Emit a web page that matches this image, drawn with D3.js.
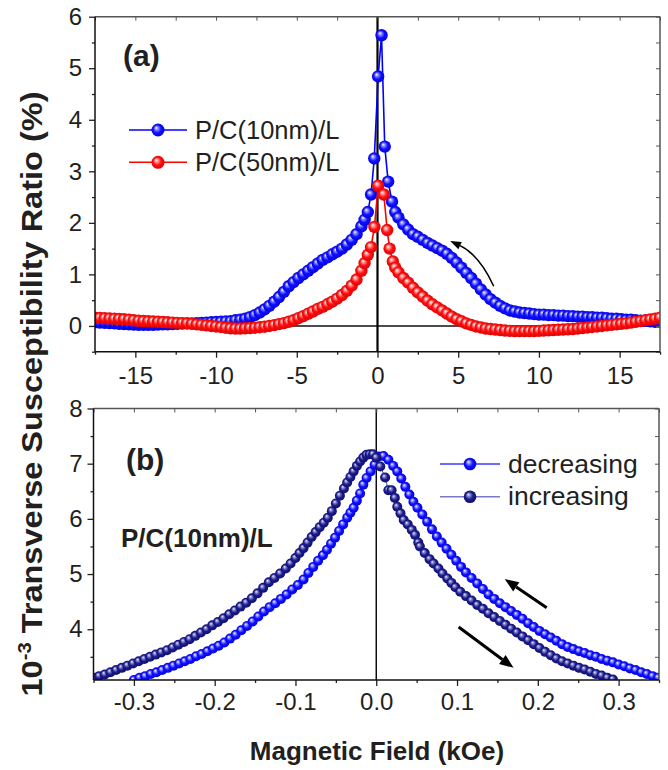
<!DOCTYPE html>
<html><head><meta charset="utf-8">
<script src="https://cdn.jsdelivr.net/npm/d3@7"></script>
<style>
body{margin:0;background:#fff}
svg{display:block}
text{font-family:Arial,"Liberation Sans",Helvetica,sans-serif;fill:#231f20}
</style>
</head><body>
<svg id="c" width="668" height="770"></svg>
<script>
// ---------------- DATA ----------------
// Panel (a): field (kOe) and transverse susceptibility ratio (%)
const aField10 = [-17.5,-17.2,-16.9,-16.6,-16.3,-16.0,-15.7,-15.4,-15.1,-14.8,-14.5,-14.2,-13.9,-13.6,-13.3,-13.0,-12.7,-12.4,-12.1,-11.8,-11.5,-11.2,-10.9,-10.6,-10.3,-10.0,-9.7,-9.4,-9.1,-8.8,-8.5,-8.2,-7.9,-7.6,-7.3,-7.0,-6.7,-6.4,-6.1,-5.8,-5.5,-5.2,-4.9,-4.6,-4.3,-4.0,-3.7,-3.4,-3.1,-2.8,-2.5,-2.2,-1.9,-1.6,-1.3,-1.0,
  -0.8,-0.6,-0.4,-0.2,0.04,0.25,0.45,0.66,0.9,1.1,1.3,
  1.6,1.9,2.2,2.5,2.8,3.1,3.4,3.7,4.0,4.3,4.6,4.9,5.2,5.5,5.8,6.1,6.4,6.7,7.0,7.3,7.6,7.9,8.2,8.5,8.8,9.1,9.4,9.7,10.0,10.3,10.6,10.9,11.2,11.5,11.8,12.1,12.4,12.7,13.0,13.3,13.6,13.9,14.2,14.5,14.8,15.1,15.4,15.7,16.0,16.3,16.6,16.9,17.2,17.5];
const aRatio10 = [.07,.065,.06,.055,.05,.04,.035,.03,.025,.02,.02,.02,.02,.025,.03,.03,.035,.04,.045,.05,.05,.055,.06,.065,.07,.075,.08,.085,.09,.11,.12,.14,.17,.21,.26,.32,.39,.47,.56,.66,.77,.85,.93,1.0,1.07,1.14,1.21,1.28,1.33,1.39,1.44,1.5,1.58,1.67,1.78,1.93,
  2.06,2.21,2.55,3.25,4.84,5.64,3.48,2.80,2.41,2.21,2.10,
  1.97,1.87,1.78,1.73,1.67,1.61,1.56,1.51,1.46,1.40,1.32,1.23,1.13,1.03,.93,.82,.71,.61,.52,.45,.39,.34,.30,.28,.26,.25,.24,.23,.22,.22,.21,.21,.20,.20,.19,.19,.18,.18,.17,.17,.16,.16,.15,.14,.14,.13,.12,.12,.11,.10,.10,.09,.08,.08];
const aField50 = [-17.5,-17.2,-16.9,-16.6,-16.3,-16.0,-15.7,-15.4,-15.1,-14.8,-14.5,-14.2,-13.9,-13.6,-13.3,-13.0,-12.7,-12.4,-12.1,-11.8,-11.5,-11.2,-10.9,-10.6,-10.3,-10.0,-9.7,-9.4,-9.1,-8.8,-8.5,-8.2,-7.9,-7.6,-7.3,-7.0,-6.7,-6.4,-6.1,-5.8,-5.5,-5.2,-4.9,-4.6,-4.3,-4.0,-3.7,-3.4,-3.1,-2.8,-2.5,-2.2,-1.9,-1.6,-1.3,-1.0,
  -0.8,-0.6,-0.4,-0.19,0.04,0.39,0.6,0.75,0.95,1.1,1.3,
  1.6,1.9,2.2,2.5,2.8,3.1,3.4,3.7,4.0,4.3,4.6,4.9,5.2,5.5,5.8,6.1,6.4,6.7,7.0,7.3,7.6,7.9,8.2,8.5,8.8,9.1,9.4,9.7,10.0,10.3,10.6,10.9,11.2,11.5,11.8,12.1,12.4,12.7,13.0,13.3,13.6,13.9,14.2,14.5,14.8,15.1,15.4,15.7,16.0,16.3,16.6,16.9,17.2,17.5];
const aRatio50 = [.16,.155,.15,.145,.14,.135,.13,.12,.11,.10,.095,.09,.085,.08,.075,.07,.065,.06,.055,.05,.04,.03,.02,.01,0,-.01,-.02,-.035,-.045,-.05,-.05,-.045,-.04,-.035,-.025,-.015,0,.015,.035,.055,.08,.11,.15,.19,.235,.28,.33,.37,.42,.47,.53,.60,.68,.78,.90,1.07,
  1.22,1.38,1.53,1.92,2.72,2.55,1.86,1.5,1.25,1.13,1.04,
  .93,.84,.74,.65,.57,.49,.42,.36,.30,.24,.18,.13,.09,.05,.02,-.01,-.03,-.05,-.06,-.07,-.08,-.09,-.095,-.1,-.1,-.1,-.1,-.1,-.095,-.09,-.085,-.08,-.075,-.07,-.065,-.06,-.05,-.04,-.03,-.02,-.01,0,.01,.02,.03,.04,.05,.065,.08,.095,.11,.125,.14,.16];

// Panel (b): field (kOe) and 10^-3 transverse susceptibility
const bDecreasing = [[-0.300,3.08],[-0.293,3.12],[-0.286,3.15],[-0.279,3.19],[-0.272,3.22],[-0.265,3.26],[-0.258,3.30],[-0.251,3.34],[-0.244,3.38],[-0.237,3.42],[-0.230,3.46],[-0.223,3.51],[-0.216,3.55],[-0.209,3.60],[-0.202,3.65],[-0.195,3.70],[-0.188,3.76],[-0.181,3.83],[-0.174,3.90],[-0.167,3.98],[-0.160,4.06],[-0.153,4.14],[-0.146,4.23],[-0.139,4.32],[-0.132,4.40],[-0.125,4.47],[-0.118,4.55],[-0.111,4.63],[-0.104,4.72],[-0.097,4.80],[-0.090,4.90],[-0.084,5.02],[-0.078,5.13],[-0.072,5.24],[-0.066,5.34],[-0.061,5.44],[-0.056,5.55],[-0.051,5.66],[-0.046,5.78],[-0.041,5.90],[-0.036,6.02],[-0.032,6.11],[-0.028,6.20],[-0.024,6.33],[-0.020,6.46],[-0.016,6.62],[-0.012,6.74],[-0.007,6.86],[-0.002,6.98],[0.003,7.13],[0.009,7.14],[0.015,7.07],[0.021,6.96],[0.026,6.86],[0.031,6.73],[0.036,6.58],[0.041,6.44],[0.046,6.31],[0.051,6.20],[0.057,6.08],[0.063,5.95],[0.069,5.81],[0.075,5.68],[0.081,5.57],[0.087,5.46],[0.093,5.35],[0.099,5.24],[0.105,5.13],[0.111,5.03],[0.118,4.93],[0.125,4.83],[0.132,4.73],[0.139,4.63],[0.146,4.55],[0.153,4.47],[0.160,4.40],[0.167,4.33],[0.174,4.26],[0.181,4.19],[0.188,4.11],[0.195,4.04],[0.202,3.97],[0.209,3.91],[0.216,3.85],[0.223,3.79],[0.230,3.73],[0.237,3.68],[0.244,3.64],[0.251,3.60],[0.258,3.57],[0.265,3.53],[0.272,3.50],[0.279,3.46],[0.286,3.43],[0.293,3.40],[0.300,3.36],[0.307,3.33],[0.314,3.29],[0.321,3.26],[0.328,3.22],[0.335,3.19],[0.342,3.15],[0.349,3.12]];
const bIncreasing = [[-0.350,3.12],[-0.343,3.15],[-0.336,3.18],[-0.329,3.22],[-0.322,3.26],[-0.315,3.30],[-0.308,3.34],[-0.301,3.38],[-0.294,3.42],[-0.287,3.46],[-0.280,3.50],[-0.273,3.54],[-0.266,3.58],[-0.259,3.62],[-0.252,3.67],[-0.245,3.72],[-0.238,3.77],[-0.231,3.82],[-0.224,3.88],[-0.217,3.94],[-0.210,4.00],[-0.203,4.07],[-0.196,4.13],[-0.189,4.20],[-0.182,4.27],[-0.175,4.34],[-0.168,4.41],[-0.161,4.48],[-0.154,4.56],[-0.147,4.65],[-0.140,4.75],[-0.133,4.85],[-0.126,4.93],[-0.119,5.01],[-0.112,5.10],[-0.106,5.19],[-0.100,5.29],[-0.095,5.38],[-0.090,5.47],[-0.085,5.57],[-0.080,5.67],[-0.075,5.76],[-0.070,5.85],[-0.065,5.93],[-0.060,6.02],[-0.055,6.14],[-0.050,6.28],[-0.045,6.42],[-0.040,6.55],[-0.036,6.66],[-0.032,6.76],[-0.028,6.86],[-0.024,6.96],[-0.020,7.04],[-0.016,7.11],[-0.012,7.16],[-0.008,7.17],[-0.004,7.17],[0.000,7.11],[0.005,6.95],[0.011,6.75],[0.015,6.52],[0.019,6.52],[0.023,6.38],[0.026,6.22],[0.030,6.10],[0.034,5.98],[0.039,5.90],[0.044,5.80],[0.048,5.71],[0.052,5.57],[0.054,5.50],[0.060,5.38],[0.066,5.27],[0.071,5.19],[0.077,5.10],[0.082,5.01],[0.088,4.92],[0.093,4.84],[0.098,4.76],[0.104,4.68],[0.111,4.60],[0.118,4.52],[0.125,4.44],[0.132,4.37],[0.139,4.29],[0.146,4.22],[0.153,4.15],[0.160,4.08],[0.167,4.01],[0.174,3.94],[0.181,3.87],[0.188,3.80],[0.195,3.73],[0.202,3.66],[0.209,3.59],[0.216,3.53],[0.223,3.47],[0.230,3.42],[0.237,3.38],[0.244,3.34],[0.251,3.30],[0.258,3.27],[0.265,3.23],[0.272,3.19],[0.279,3.16],[0.286,3.12],[0.293,3.09]];

// Ticks
const aXTicks = [-15,-10,-5,0,5,10,15];
const aXMinor = [-17.5,-12.5,-7.5,-2.5,2.5,7.5,12.5,17.5];
const aYTicks = [0,1,2,3,4,5,6];
const aYMinor = [-0.5,0.5,1.5,2.5,3.5,4.5,5.5];
const bXTicks = [-0.3,-0.2,-0.1,0,0.1,0.2,0.3];
const bXMinor = [-0.35,-0.25,-0.15,-0.05,0.05,0.15,0.25,0.35];
const bYTicks = [4,5,6,7,8];
const bYMinor = [3.5,4.5,5.5,6.5,7.5];

// Legend / text labels
const aSeriesNames = ["P/C(10nm)/L","P/C(50nm)/L"];
const bSeriesNames = ["decreasing","increasing"];
const yTitle = " Transverse Susceptibility Ratio (%)";
const xTitle = "Magnetic Field (kOe)";

// ---------------- DRAWING ----------------
const svg = d3.select("#c");
const defs = svg.append("defs");
function sphere(id, hi, mid, base, edge){
  const g = defs.append("radialGradient").attr("id",id)
    .attr("cx","50%").attr("cy","50%").attr("r","55%").attr("fx","36%").attr("fy","32%");
  g.append("stop").attr("offset","0%").attr("stop-color",hi);
  g.append("stop").attr("offset","22%").attr("stop-color",mid);
  g.append("stop").attr("offset","55%").attr("stop-color",base);
  g.append("stop").attr("offset","100%").attr("stop-color",edge);
}
sphere("gBlue","#ffffff","#8f8fff","#1010ff","#0000d8");
sphere("gRed","#ffffff","#ff9a9a","#ff1010","#d80000");
sphere("gNavy","#f0f0ff","#8a8ad0","#1c1c8e","#0c0c66");

const A = {x:d3.scaleLinear([-17.5,17.5],[95,660]), y:d3.scaleLinear([-0.5,6],[351.7,16.7])};
const B = {x:d3.scaleLinear([-0.35,0.35],[93.5,659]), y:d3.scaleLinear([3.08,8],[680,408.5])};

function clip(id,P){
  const [x0,x1]=P.x.range(), [y0,y1]=P.y.range();
  defs.append("clipPath").attr("id",id).append("rect")
    .attr("x",x0).attr("y",y1).attr("width",x1-x0).attr("height",y0-y1);
}
clip("clipA",A); clip("clipB",B);

function frame(P, xMaj, xMin, yMaj, yMin, xFmt, yFmt, xPad, yPad){
  const [x0,x1]=P.x.range(), [y0,y1]=P.y.range();
  const g = svg.append("g");
  g.append("g").attr("transform",`translate(${x0},0)`)
    .call(d3.axisLeft(P.y).tickValues(yMaj).tickSize(6).tickPadding(yPad).tickFormat(yFmt).tickSizeOuter(0));
  g.append("g").attr("transform",`translate(${x0},0)`)
    .call(d3.axisLeft(P.y).tickValues(yMin).tickSize(3).tickFormat("").tickSizeOuter(0));
  g.append("g").attr("transform",`translate(0,${y0})`)
    .call(d3.axisBottom(P.x).tickValues(xMaj).tickSize(6).tickPadding(xPad).tickFormat(xFmt).tickSizeOuter(0));
  g.append("g").attr("transform",`translate(0,${y0})`)
    .call(d3.axisBottom(P.x).tickValues(xMin).tickSize(3).tickFormat("").tickSizeOuter(0));
  const t = g.append("g").attr("transform",`translate(0,${y1})`)
    .call(d3.axisBottom(P.x).tickValues(xMaj.concat(xMin)).tickSize(4).tickFormat("").tickSizeOuter(0));
  const r = g.append("g").attr("transform",`translate(${x1},0)`)
    .call(d3.axisLeft(P.y).tickValues(yMaj.concat(yMin)).tickSize(4).tickFormat("").tickSizeOuter(0));
  g.selectAll(".domain").remove();
  g.selectAll(".tick line").attr("stroke","#222").attr("stroke-width",1.3);
  t.selectAll(".tick line").attr("stroke","#555").attr("stroke-width",1);
  r.selectAll(".tick line").attr("stroke","#555").attr("stroke-width",1);
  g.selectAll(".tick text").attr("font-size",24).attr("fill","#231f20")
    .attr("font-family","Arial, 'Liberation Sans', Helvetica, sans-serif");
  g.append("line").attr("x1",x0).attr("x2",x1).attr("y1",y1).attr("y2",y1).attr("stroke","#555").attr("stroke-width",1.5);
  g.append("line").attr("x1",x1).attr("x2",x1).attr("y1",y1).attr("y2",y0).attr("stroke","#555").attr("stroke-width",1.5);
  g.append("line").attr("x1",x0).attr("x2",x0).attr("y1",y1).attr("y2",y0).attr("stroke","#111").attr("stroke-width",1.5);
  g.append("line").attr("x1",x0).attr("x2",x1).attr("y1",y0).attr("y2",y0).attr("stroke","#111").attr("stroke-width",1.5);
}

// ---------- Panel (a) ----------
const gA = svg.append("g").attr("clip-path","url(#clipA)");
gA.append("line").attr("x1",A.x(-17.5)).attr("x2",A.x(17.5)).attr("y1",A.y(0)).attr("y2",A.y(0))
  .attr("stroke","#111").attr("stroke-width",1.5);
gA.append("line").attr("x1",A.x(0)).attr("x2",A.x(0)).attr("y1",A.y(6)).attr("y2",A.y(-0.5))
  .attr("stroke","#000").attr("stroke-width",2.2);

function series(g, P, pts, color, grad, r, lw){
  g.append("path").datum(pts).attr("fill","none").attr("stroke",color).attr("stroke-width",lw)
    .attr("d",d3.line().x(d=>P.x(d[0])).y(d=>P.y(d[1])));
  g.append("g").selectAll("circle").data(pts).join("circle")
    .attr("cx",d=>P.x(d[0])).attr("cy",d=>P.y(d[1])).attr("r",r).attr("fill",`url(#${grad})`);
}
const a10 = d3.zip(aField10,aRatio10), a50 = d3.zip(aField50,aRatio50);
series(gA, A, a10, "#0000ff", "gBlue", 6.2, 1.6);
series(gA, A, a50, "#ff0000", "gRed", 6.2, 1.6);

frame(A, aXTicks, aXMinor, aYTicks, aYMinor, d=>String(d), d=>String(d), 9, 7);

// ---------- Panel (b) ----------
const gB = svg.append("g").attr("clip-path","url(#clipB)");
gB.append("line").attr("x1",B.x(0)).attr("x2",B.x(0)).attr("y1",B.y(8)).attr("y2",B.y(3.08))
  .attr("stroke","#000").attr("stroke-width",1.4);
series(gB, B, bDecreasing, "#0000ff", "gBlue", 5, 1);
series(gB, B, bIncreasing, "#5050b8", "gNavy", 5, 1);

frame(B, bXTicks, bXMinor, bYTicks, bYMinor, d=>d.toFixed(1), d=>String(d), 7, 5);

// ---------- Arrows ----------
function head(g, tip, dir, len, w){
  const m = Math.hypot(dir[0],dir[1]), ux=dir[0]/m, uy=dir[1]/m;
  const bx = tip[0]-ux*len, by = tip[1]-uy*len;
  g.append("path").attr("d",`M${tip[0]},${tip[1]}L${bx-uy*w/2},${by+ux*w/2}L${bx+uy*w/2},${by-ux*w/2}Z`).attr("fill","#000");
  return [bx,by];
}
const ann = svg.append("g");
{
  const p0=[A.x(7.2),A.y(0.77)], c=[A.x(6.3),A.y(1.38)], p1=[A.x(4.5),A.y(1.65)];
  const base = head(ann, p1, [p1[0]-c[0], p1[1]-c[1]], 11, 8);
  ann.append("path").attr("d",`M${p0[0]},${p0[1]}Q${c[0]},${c[1]} ${base[0]},${base[1]}`)
    .attr("fill","none").attr("stroke","#000").attr("stroke-width",1.5);
}
function straight(p0,p1,lw,len,w){
  const base = head(ann, p1, [p1[0]-p0[0],p1[1]-p0[1]], len, w);
  ann.append("line").attr("x1",p0[0]).attr("y1",p0[1]).attr("x2",base[0]).attr("y2",base[1])
    .attr("stroke","#000").attr("stroke-width",lw);
}
straight([B.x(0.211),B.y(4.39)],[B.x(0.159),B.y(4.91)],3,14,11);
straight([B.x(0.102),B.y(4.04)],[B.x(0.170),B.y(3.30)],3,14,11);

// ---------- Legends ----------
function legendRow(x0,x1,y,color,grad,r,label,tx,fs){
  svg.append("line").attr("x1",x0).attr("x2",x1).attr("y1",y).attr("y2",y).attr("stroke",color).attr("stroke-width",1.6);
  svg.append("circle").attr("cx",(x0+x1)/2).attr("cy",y).attr("r",r).attr("fill",`url(#${grad})`);
  svg.append("text").attr("x",tx).attr("y",y+8.5).attr("font-size",fs).text(label);
}
legendRow(129,187,130,"#0000ff","gBlue",6.5,aSeriesNames[0],195,25.5);
legendRow(129,187,162.3,"#ff0000","gRed",6.5,aSeriesNames[1],195,25.5);
legendRow(440,500,464,"#3a3aff","gBlue",6.3,bSeriesNames[0],508,26.5);
legendRow(440,500,496.7,"#7a7ac8","gNavy",6.3,bSeriesNames[1],508,26.5);

// ---------- Panel labels ----------
svg.append("text").attr("x",123).attr("y",66).attr("font-size",30).attr("font-weight","bold").text("(a)");
svg.append("text").attr("x",126).attr("y",470).attr("font-size",30).attr("font-weight","bold").text("(b)");
svg.append("text").attr("x",121).attr("y",547).attr("font-size",26).attr("font-weight","bold").text(aSeriesNames[0]);

// ---------- Axis titles ----------
svg.append("text").attr("x",377).attr("y",760).attr("text-anchor","middle")
  .attr("font-size",26).attr("font-weight","bold").text(xTitle);
const yt = svg.append("text").attr("text-anchor","middle")
  .attr("font-size",29).attr("font-weight","bold");
yt.append("tspan").text("10");
yt.append("tspan").attr("dy",-11).attr("font-size",18).text("-3");
yt.append("tspan").attr("dy",11).text(yTitle);
const ytLen = yt.node().getComputedTextLength();
const ytScale = ytLen > 0 ? 605/ytLen : 1;
yt.attr("transform",`translate(42,394) rotate(-90) scale(${ytScale},1)`);
</script>
</body></html>
